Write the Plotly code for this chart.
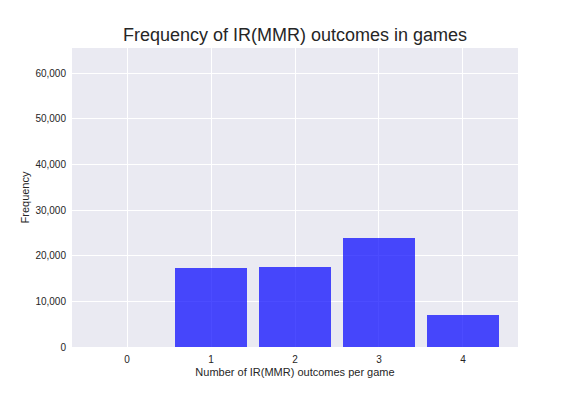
import plotly.graph_objects as go

categories = [0, 1, 2, 3, 4]
frequency = [0, 17200, 17450, 23800, 7100]
y_ticks = [0, 10000, 20000, 30000, 40000, 50000, 60000]
y_tick_labels = ["0", "10,000", "20,000", "30,000", "40,000", "50,000", "60,000"]

font_family = "Liberation Sans, Arial, sans-serif"

fig = go.Figure(
    go.Bar(
        x=categories,
        y=frequency,
        width=0.85,
        marker=dict(color="rgba(0,0,255,0.7)", line=dict(width=0)),
    )
)

fig.update_layout(
    width=576,
    height=396,
    margin=dict(l=64, r=66, t=40, b=57),
    paper_bgcolor="white",
    plot_bgcolor="#EAEAF2",
    font=dict(family=font_family, color="#262626"),
    title=dict(
        text="Frequency of IR(MMR) outcomes in games",
        x=287 / 576,
        xanchor="center",
        y=1 - 27 / 396,
        yanchor="middle",
        font=dict(size=18, color="#262626"),
    ),
    showlegend=False,
    bargap=0,
)

fig.update_xaxes(
    range=[-0.655, 4.655],
    tickmode="array",
    tickvals=categories,
    ticktext=[str(c) for c in categories],
    showgrid=True,
    gridcolor="white",
    gridwidth=1,
    zeroline=False,
    showline=False,
    ticks="outside",
    ticklen=3,
    tickcolor="rgba(0,0,0,0)",
    tickfont=dict(size=10, color="#262626"),
    title=dict(text="Number of IR(MMR) outcomes per game", font=dict(size=11, color="#262626"), standoff=4),
)

fig.update_yaxes(
    range=[0, 65500],
    tickmode="array",
    tickvals=y_ticks,
    ticktext=y_tick_labels,
    showgrid=True,
    gridcolor="white",
    gridwidth=1,
    zeroline=False,
    showline=False,
    ticks="outside",
    ticklen=3,
    tickcolor="rgba(0,0,0,0)",
    tickfont=dict(size=10, color="#262626"),
    title=dict(text="Frequency", font=dict(size=11, color="#262626"), standoff=3),
)

fig.write_html("out.html")
